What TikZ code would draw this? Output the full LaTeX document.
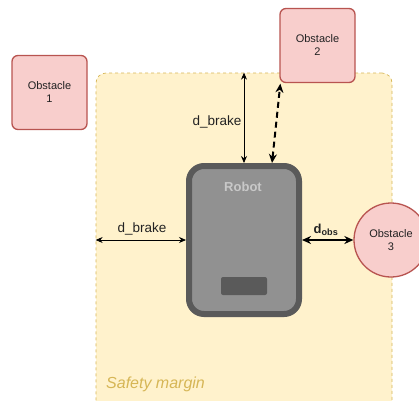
\documentclass[tikz,border=0pt]{standalone}
\usepackage{fontspec}
\setmainfont{Liberation Sans}
\usetikzlibrary{arrows.meta,calc}
\definecolor{marginfill}{HTML}{FFF2CC}
\definecolor{marginline}{HTML}{D6B656}
\definecolor{obsfill}{HTML}{F8CECC}
\definecolor{obsline}{HTML}{B85450}
\definecolor{robotfill}{HTML}{919191}
\definecolor{robotline}{HTML}{5A5A5A}
\definecolor{robottext}{HTML}{C8C8C8}
\definecolor{txt}{HTML}{222222}
\tikzset{
  x=1pt, y=-1pt,
  obstacle/.style={draw=obsline, fill=obsfill, line width=1.3pt, text=txt,
    font=\fontsize{11}{13}\selectfont, align=center, inner sep=0pt},
  obsbox/.style={obstacle, rounded corners=6pt, minimum width=75pt, minimum height=74pt},
  thinarrow/.style={{Stealth[length=7pt,width=6pt]}-{Stealth[length=7pt,width=6pt]}, line width=0.8pt},
  thickarrow/.style={{Stealth[length=9pt,width=8pt]}-{Stealth[length=9pt,width=8pt]}, line width=2pt},
  dimlabel/.style={font=\fontsize{13.5}{16}\selectfont, text=txt, inner sep=0pt},
}
\begin{document}
\begin{tikzpicture}
\useasboundingbox (0,0) rectangle (419,400);
\clip (0,0) rectangle (419,400);

% safety margin area (runs past the lower edge)
\node[draw=marginline, fill=marginfill, dashed, line width=0.7pt, rounded corners=10pt,
      minimum width=296pt, minimum height=350pt, inner sep=0pt] (margin) at (244,248) {};
\node[anchor=west, font=\fontsize{16}{19}\selectfont\itshape, text=marginline, inner sep=0pt]
  (mlabel) at (106,384) {Safety margin};

% obstacles
\node[obsbox] (ob1) at (49.5,92.5) {Obstacle\\1};
\node[obsbox] (ob2) at (317.5,45.5) {Obstacle\\2};
\node[obstacle, circle, minimum size=74pt] (ob3) at (391,240) {Obstacle\\3};

% robot
\node[draw=robotline, fill=robotfill, line width=6pt, rounded corners=15pt,
      minimum width=110pt, minimum height=148pt, inner sep=0pt] (robot) at (244,240) {};
\node[font=\fontsize{13}{15}\selectfont\bfseries, text=robottext, inner sep=0pt]
  (rlabel) at (243,187) {Robot};
\node[fill=robotline, rounded corners=2pt, minimum width=46pt, minimum height=18pt,
      inner sep=0pt] (panel) at (244,286) {};

% braking distances
\coordinate (vtop) at (robot.north |- margin.north);
\draw[thinarrow] (robot.north) -- (vtop);
\node[dimlabel] (vlabel) at (217,122) {d\_brake};
\coordinate (hleft) at (margin.west |- robot.west);
\draw[thinarrow] (hleft) -- (robot.west);
\node[dimlabel] (hlabel) at (142,229) {d\_brake};

% obstacle distances
\coordinate (dtail) at ($(robot.north)+(28,0)$);
\coordinate (dhead) at ($(ob2.south west)+(1,0.5)$);
\draw[thickarrow, dash pattern=on 6pt off 4pt] (dtail) -- (dhead);
\draw[thickarrow] (robot.east) -- (ob3.west);
\node[font=\fontsize{13}{15}\selectfont\bfseries, text=txt, inner sep=0pt]
  (olabel) at (326,230) {d\textsubscript{obs}};
\end{tikzpicture}
\end{document}
